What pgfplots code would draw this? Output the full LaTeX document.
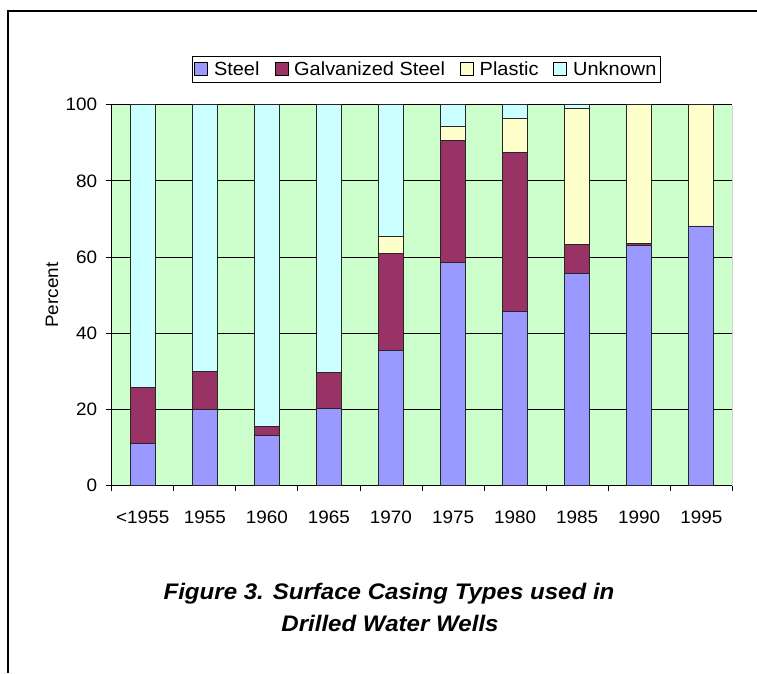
\documentclass[border=0pt]{standalone}
\usepackage{pgfplots}
\pgfplotsset{compat=1.18}
\usepackage{fontspec}
\setmainfont{Liberation Sans}[FakeStretch=1.05]
\newfontfamily\titlefont{Liberation Sans}[FakeStretch=1.07]
\definecolor{plotbg}{HTML}{CCFFCC}
\definecolor{steel}{HTML}{9999FF}
\definecolor{galv}{HTML}{993366}
\definecolor{plastic}{HTML}{FFFFCC}
\definecolor{unknown}{HTML}{CCFFFF}
\pgfplotsset{sqlegend/.style={legend image code/.code={\draw[##1,draw=black,line width=0.7pt] (0pt,-6.5pt) rectangle (13pt,6.5pt);}}}
\begin{document}
\begin{tikzpicture}
\path[use as bounding box] (0pt,0pt) rectangle (757pt,673pt);
\draw[line width=2pt] (7.7pt,0pt) -- (7.7pt,662pt) -- (757pt,662pt);
\begin{axis}[
  at={(111.7pt,187.3pt)}, anchor=south west,
  width=620.6pt, height=381pt, scale only axis,
  font=\fontsize{18}{21}\selectfont,
  ybar stacked, bar width=25pt,
  xmin=-0.5, xmax=9.5, ymin=0, ymax=100,
  xtick={0,...,9},
  xticklabels={<1955,1955,1960,1965,1970,1975,1980,1985,1990,1995},
  minor xtick={-0.5,0.5,1.5,2.5,3.5,4.5,5.5,6.5,7.5,8.5,9.5},
  major x tick style={draw=none},
  minor x tick style={black, line width=0.8pt},
  major y tick style={black, line width=0.8pt},
  tick align=outside, major tick length=6pt, minor tick length=5pt,
  ytick={0,20,...,100},
  ymajorgrids, grid style={black, line width=0.8pt},
  axis lines*=left, axis line style={black, line width=0.8pt},
  axis background/.style={fill=plotbg},
  /pgf/number format/assume math mode=true,
  xticklabel style={yshift=-16pt},
  yticklabel style={xshift=-5pt},
  ylabel={Percent},
  ylabel style={at={(rel axis cs:-0.0962,0.5)}, anchor=center},
  legend columns=4,
  legend style={at={(0.507,1.0937)}, anchor=center, draw=black, line width=0.7pt,
    font=\fontsize{19}{22}\selectfont, inner xsep=1.5pt, inner ysep=3.5pt,
    /tikz/every odd column/.append style={column sep=4pt},
    /tikz/every even column/.append style={column sep=13pt}},
  every axis plot/.append style={draw=black!85, line width=0.7pt},
]
\addplot[fill=steel, sqlegend] coordinates {(0,11.1) (1,20.0) (2,13.3) (3,20.3) (4,35.5) (5,58.7) (6,45.8) (7,55.7) (8,63.0) (9,68.2)};
\addplot[fill=galv, sqlegend] coordinates {(0,14.8) (1,10.0) (2,2.3) (3,9.4) (4,25.5) (5,32.0) (6,41.7) (7,7.6) (8,0.7) (9,0)};
\addplot[fill=plastic, sqlegend] coordinates {(0,0) (1,0) (2,0) (3,0) (4,4.5) (5,3.5) (6,9.0) (7,35.7) (8,36.3) (9,31.8)};
\addplot[fill=unknown, sqlegend] coordinates {(0,74.1) (1,70.0) (2,84.4) (3,70.3) (4,34.5) (5,5.8) (6,3.5) (7,1.0) (8,0) (9,0)};
\legend{Steel,Galvanized Steel,Plastic,Unknown}
\draw[gray, line width=1.2pt] (rel axis cs:1,0) -- (rel axis cs:1,1);
\end{axis}
\node[anchor=base, font=\titlefont\fontsize{22.5}{27}\selectfont\bfseries\itshape] at (389pt,73.7pt) {Figure 3. Surface Casing Types used in};
\node[anchor=base, font=\titlefont\fontsize{22.5}{27}\selectfont\bfseries\itshape] at (390pt,42pt) {Drilled Water Wells};
\end{tikzpicture}
\end{document}
